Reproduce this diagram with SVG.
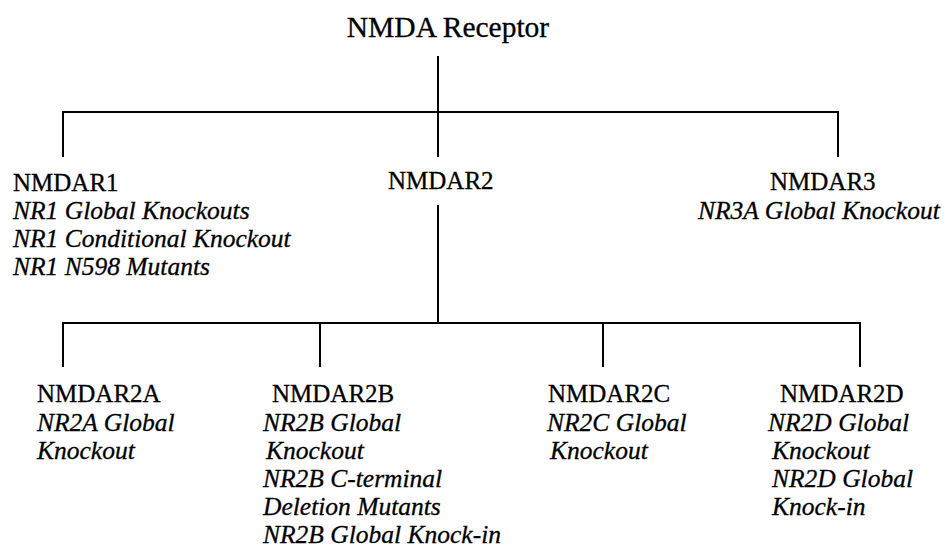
<svg xmlns="http://www.w3.org/2000/svg" width="949" height="554" viewBox="0 0 949 554">
<style>
.t{font-size:29.5px}
.h{font-size:25px}
.i{font-size:25.5px;font-style:italic}
.c{stroke:#000;stroke-width:2;fill:none}
</style>
<rect width="949" height="554" fill="#fff"/>
<g id="connectors">
<path class="c" d="M438 56V112M63 112H838M63 111V157M438 112V157M838 111V157"/>
<path class="c" d="M438 205V323M63 323H860M63 322V367M320 323V367M603 323V367M860 322V367"/>
</g>
<g font-family="'Liberation Serif', 'Times New Roman', serif" fill="#000" stroke="#000" stroke-width="0.3">
<g id="root"><text class="t" x="448" y="37" text-anchor="middle">NMDA Receptor</text></g>
<g id="nmdar1">
<text class="h" x="13" y="191">NMDAR1</text>
<text class="i" x="13" y="219">NR1 Global Knockouts</text>
<text class="i" x="13" y="247">NR1 Conditional Knockout</text>
<text class="i" x="13" y="275">NR1 N598 Mutants</text>
</g>
<g id="nmdar2"><text class="h" x="388" y="189">NMDAR2</text></g>
<g id="nmdar3">
<text class="h" x="770" y="190">NMDAR3</text>
<text class="i" x="698" y="219">NR3A Global Knockout</text>
</g>
<g id="nmdar2a">
<text class="h" x="37" y="402">NMDAR2A</text>
<text class="i" x="37" y="431">NR2A Global</text>
<text class="i" x="37" y="459">Knockout</text>
</g>
<g id="nmdar2b">
<text class="h" x="272" y="402">NMDAR2B</text>
<text class="i" x="263" y="431">NR2B Global</text>
<text class="i" x="266" y="459">Knockout</text>
<text class="i" x="263" y="487">NR2B C-terminal</text>
<text class="i" x="263" y="515">Deletion Mutants</text>
<text class="i" x="263" y="543">NR2B Global Knock-in</text>
</g>
<g id="nmdar2c">
<text class="h" x="548" y="402">NMDAR2C</text>
<text class="i" x="547" y="431">NR2C Global</text>
<text class="i" x="550" y="459">Knockout</text>
</g>
<g id="nmdar2d">
<text class="h" x="780" y="402">NMDAR2D</text>
<text class="i" x="768" y="431">NR2D Global</text>
<text class="i" x="772" y="459">Knockout</text>
<text class="i" x="772" y="487">NR2D Global</text>
<text class="i" x="772" y="515">Knock-in</text>
</g>
</g>
</svg>
